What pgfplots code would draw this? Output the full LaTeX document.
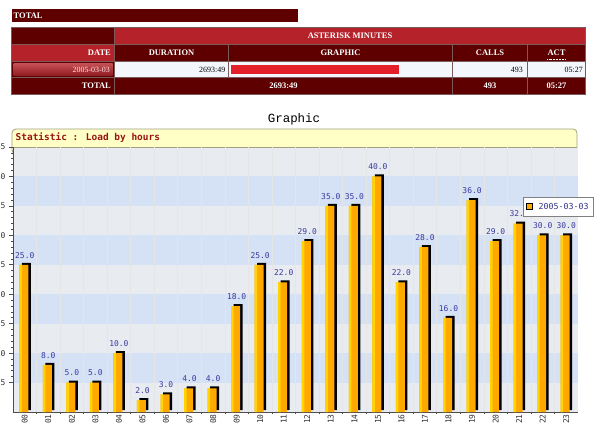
\documentclass[border=0pt]{standalone}
\usepackage{pgfplots}
\pgfplotsset{compat=1.18}
\usepackage{pgfplotstable}
\usepackage{fontspec}
\setmainfont{Liberation Serif}
\newfontfamily\dvmono{DejaVu Sans Mono}
\newfontfamily\libmono{Liberation Mono}
\definecolor{dred}{HTML}{5E0000}
\definecolor{bred}{HTML}{B5222A}
\definecolor{tborder}{HTML}{7A5A5A}
\definecolor{cellwhite}{HTML}{F3F7FC}
\definecolor{barred}{HTML}{E3202A}
\definecolor{barorange}{HTML}{FFA800}
\definecolor{baryellow}{HTML}{FFD400}
\definecolor{gband}{HTML}{E8EBF0}
\definecolor{bband}{HTML}{D5E1F5}
\definecolor{navy}{HTML}{3A3AA0}
\definecolor{legtext}{HTML}{333388}
\definecolor{titlered}{HTML}{9A1414}
\definecolor{titlebg}{HTML}{FFFFC6}
\definecolor{boxgray}{HTML}{A0A080}
\newcommand\tabfont{\fontsize{8.5}{10}\selectfont}
\newcommand\valfont{\fontsize{8}{9.5}\selectfont}
\pgfplotstableread{
h v
0 25
1 8
2 5
3 5
4 10
5 2
6 3
7 4
8 4
9 18
10 25
11 22
12 29
13 35
14 35
15 40
16 22
17 28
18 16
19 36
20 29
21 32
22 30
23 30
}\loaddata
\begin{document}
\begin{tikzpicture}[x=1bp,y=1bp]
\useasboundingbox (0,0) rectangle (601,430);
% ---- top TOTAL bar
\fill[dred] (12,408) rectangle (298,421);
\node[anchor=west, text=white, font=\tabfont\bfseries, inner sep=1bp] at (12.5,414.5) {TOTAL};
% ---- table
\fill[tborder] (11,335) rectangle (586,403);
% row 1
\fill[dred] (12,386) rectangle (114,402);
\fill[bred] (115,386) rectangle (585,402);
\node[text=white, font=\tabfont\bfseries] at (350,394) {ASTERISK MINUTES};
% row 2
\fill[bred] (12,369) rectangle (114,385);
\fill[dred] (115,369) rectangle (228,385);
\fill[dred] (229,369) rectangle (452,385);
\fill[dred] (453,369) rectangle (527,385);
\fill[dred] (528,369) rectangle (585,385);
\node[anchor=east, text=white, font=\tabfont\bfseries, inner sep=1bp] at (112,377) {DATE};
\node[text=white, font=\tabfont\bfseries] at (171.5,377) {DURATION};
\node[text=white, font=\tabfont\bfseries] at (340.5,377) {GRAPHIC};
\node[text=white, font=\tabfont\bfseries] at (490,377) {CALLS};
\node[text=white, font=\tabfont\bfseries] at (556.5,377) {ACT};
\draw[white, densely dotted, line width=0.5bp] (547,371) -- (566,371);
% row 3
\fill[dred] (12,353) rectangle (114,368);
\shade[top color=bred!80!white, bottom color=bred!80!black] (13.5,354.5) rectangle (112.5,366.5);
\fill[cellwhite] (115,353) rectangle (228,368);
\fill[cellwhite] (229,353) rectangle (452,368);
\fill[cellwhite] (453,353) rectangle (527,368);
\fill[cellwhite] (528,353) rectangle (585,368);
\fill[barred] (231,356) rectangle (399,365);
\node[anchor=east, text=red!10!white, font=\valfont, inner sep=1bp] at (111,360.5) {2005-03-03};
\node[anchor=east, text=black, font=\valfont, inner sep=1bp] at (226.5,360.5) {2693:49};
\node[anchor=east, text=black, font=\valfont, inner sep=1bp] at (524,360.5) {493};
\node[anchor=east, text=black, font=\valfont, inner sep=1bp] at (584,360.5) {05:27};
% row 4
\fill[dred] (12,336) rectangle (114,352);
\fill[dred] (115,336) rectangle (452,352);
\fill[dred] (453,336) rectangle (527,352);
\fill[dred] (528,336) rectangle (585,352);
\node[anchor=east, text=white, font=\tabfont\bfseries, inner sep=1bp] at (112,344) {TOTAL};
\node[text=white, font=\tabfont\bfseries] at (283.5,344) {2693:49};
\node[text=white, font=\tabfont\bfseries] at (490,344) {493};
\node[text=white, font=\tabfont\bfseries] at (556.5,344) {05:27};
% ---- chart title
\node[font=\libmono\fontsize{12.5}{14}\selectfont] at (294,311) {Graphic};
\draw[fill=titlebg, draw=boxgray, line width=0.8bp, rounded corners=4bp] (12,276) rectangle (577,301);
\node[anchor=west, text=titlered, font=\dvmono\bfseries\fontsize{9.5}{11}\selectfont, inner sep=0pt] at (15.5,292) {Statistic : Load by hours};
% ---- background bands
\begin{scope}[shift={(13,18)}, y=5.8889bp]
\fill[gband] (0,0) rectangle (565,45);
\fill[bband] (0,5) rectangle (565,10);
\fill[bband] (0,15) rectangle (565,20);
\fill[bband] (0,25) rectangle (565,30);
\fill[bband] (0,35) rectangle (565,40);
\draw[boxgray, line width=0.8bp] (-1,45) -- (564,45);
\end{scope}
\begin{axis}[
  at={(13bp,18bp)}, anchor=south west,
  scale only axis, width=565bp, height=265bp,
  xmin=-0.5, xmax=23.5, ymin=0, ymax=45,
  clip=false,
  /pgf/number format/assume math mode=true,
  axis x line*=bottom, axis y line*=left,
  axis line style={color=black!70, line width=0.8bp},
  xtick={0,...,23},
  xticklabels={00,01,02,03,04,05,06,07,08,09,10,11,12,13,14,15,16,17,18,19,20,21,22,23},
  x tick label style={rotate=90, anchor=east, inner sep=1bp, font=\dvmono\fontsize{8}{9}\selectfont, text=black!80},
  xticklabel shift=-3bp,
  major x tick style={draw=none},
  minor xtick={0.5,1.5,...,22.5},
  xminorgrids,
  minor x grid style={color=white!80!gray, line width=0.6bp},
  ytick={5,10,...,45},
  minor y tick num=4,
  tick align=outside,
  major tick length=4bp, minor tick length=2bp,
  tick style={color=black!70, line width=0.6bp},
  y tick label style={font=\dvmono\fontsize{8}{9}\selectfont, text=black!80},
  legend style={at={(0.9027,0.811)}, anchor=north west, font=\dvmono\fontsize{8.3}{9.5}\selectfont, text=legtext, draw=gray, line width=0.8bp, fill=white, inner xsep=3bp, inner ysep=3.5bp, cells={anchor=west}},
  legend image code/.code={\draw[fill=barorange, draw=black, line width=0.6bp] (3bp,-3bp) rectangle (9bp,3bp); \path (13bp,0bp);},
]
\addplot[ybar, fill=black, draw=none, bar width=9bp, bar shift=1.5bp, yshift=2bp, forget plot] table[x=h, y=v] {\loaddata};
\addplot[ybar, fill=barorange, draw=none, bar width=9bp, bar shift=-1bp,
  nodes near coords={\pgfmathprintnumber[fixed,fixed zerofill,precision=1]{\pgfplotspointmeta}},
  every node near coord/.append style={font=\dvmono\fontsize{8}{9}\selectfont, text=navy, yshift=3bp}]
  table[x=h, y=v] {\loaddata};
\addlegendentry{2005-03-03}
\addplot[ybar, fill=baryellow, draw=none, bar width=2.5bp, bar shift=-4.25bp, forget plot] table[x=h, y=v] {\loaddata};
\end{axis}
\end{tikzpicture}
\end{document}
